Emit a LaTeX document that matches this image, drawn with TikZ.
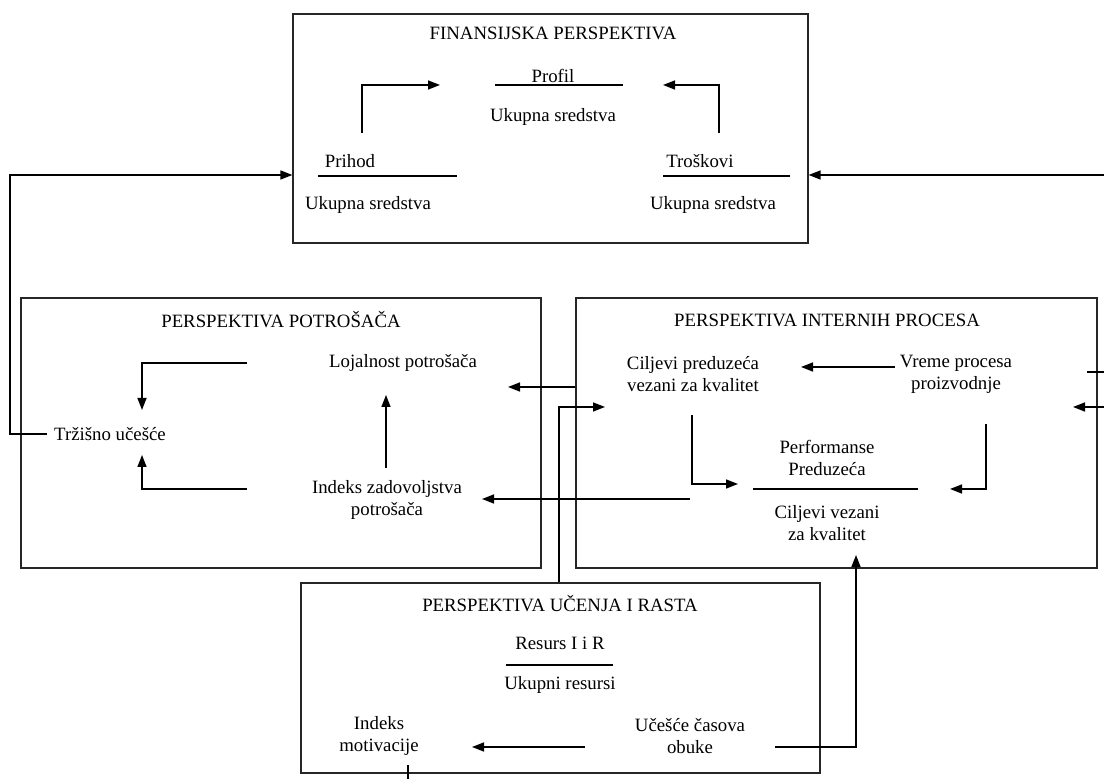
\documentclass[tikz,border=0pt]{standalone}
\usepackage{fontspec}
\setmainfont{Liberation Serif}
\usetikzlibrary{arrows.meta}
\tikzstyle{persp}=[draw=black!85, line width=0.6pt, inner sep=0pt]
\tikzstyle{flow}=[draw, line width=0.75pt, -{Triangle[length=6pt,width=4.5pt]}]
\tikzstyle{link}=[draw, line width=0.6pt]
\tikzstyle{ratio}=[draw, line width=0.6pt]
\tikzstyle{txt}=[inner sep=0pt, align=center, font=\fontsize{9.4}{11}\selectfont]

\begin{document}
\begin{tikzpicture}[x=0.5pt, y=-0.5pt]
  \useasboundingbox (0,0) rectangle (1104,779);

  % finansijska perspektiva
  \node[persp, minimum width=257.5pt, minimum height=114.5pt] (fin) at (550.5,128.5) {};
  \node[txt] (fintitle) at (553,33) {FINANSIJSKA PERSPEKTIVA};
  \node[txt] (profil) at (553,76) {Profil};
  \node[txt] (finsum) at (553,117) {Ukupna sredstva};
  \node[txt] (prihod) at (350,161) {Prihod};
  \node[txt] (prisum) at (368,205) {Ukupna sredstva};
  \node[txt] (trosak) at (700,161) {Troškovi};
  \node[txt] (trosum) at (713,205) {Ukupna sredstva};
  \draw[style=ratio] (495,85) -- (623,85);
  \draw[style=ratio] (318,176) -- (457,176);
  \draw[style=ratio] (663,176) -- (790,176);
  \coordinate (prihup) at (362,133);
  \coordinate (trosup) at (719,133);
  \coordinate (profl) at (440,85);
  \coordinate (profr) at (663,85);
  \draw[style=flow] (prihup) |- (profl);
  \draw[style=flow] (trosup) |- (profr);

  % perspektiva potrosaca
  \node[persp, minimum width=260pt, minimum height=135pt] (pot) at (281,433) {};
  \node[txt] (pottitle) at (281,320) {PERSPEKTIVA POTROŠAČA};
  \node[txt] (lojal) at (403,363) {Lojalnost potrošača};
  \node[txt] (trzis) at (110,434) {Tržišno učešće};
  \node[txt] (indzad) at (387,500) {Indeks zadovoljstva\\potrošača};
  \coordinate (lojout) at (247,363);
  \coordinate (zadout) at (247,489);
  \coordinate (trzup) at (142,410);
  \coordinate (trzdn) at (142,455);
  \draw[style=flow] (lojout) -| (trzup);
  \draw[style=flow] (zadout) -| (trzdn);
  \draw[style=flow] (386,468) -- (386,395);

  % perspektiva internih procesa
  \node[persp, minimum width=260.5pt, minimum height=135pt] (int) at (836.5,433) {};
  \node[txt] (inttitle) at (827,320) {PERSPEKTIVA INTERNIH PROCESA};
  \node[txt] (cilj) at (693,374) {Ciljevi preduzeća\\vezani za kvalitet};
  \node[txt] (vreme) at (956,374) {Vreme procesa\\proizvodnje};
  \node[txt] (perf) at (827,458) {Performanse\\Preduzeća};
  \node[txt] (cvez) at (827,523) {Ciljevi vezani\\za kvalitet};
  \draw[style=ratio] (753,489) -- (918,489);
  \draw[style=flow] (895,367) -- (801,367);
  \draw[style=flow] (692,415) |- (738,484);
  \draw[style=flow] (986,424) |- (950,489);

  % perspektiva ucenja i rasta
  \node[persp, minimum width=259.5pt, minimum height=95pt] (ucen) at (560.5,678) {};
  \node[txt] (ucentitle) at (560,604) {PERSPEKTIVA UČENJA I RASTA};
  \node[txt] (resurs) at (560,643) {Resurs I i R};
  \draw[style=ratio] (506,665) -- (613,665);
  \node[txt] (ukres) at (560,685) {Ukupni resursi};
  \node[txt] (motiv) at (379,736) {Indeks\\motivacije};
  \node[txt] (obuka) at (690,736) {Učešće časova\\obuke};
  \draw[style=flow] (585,747) -- (472,747);

  % veze izmedju perspektiva
  \coordinate (leftrail) at (10,175);
  \coordinate (rightin) at (1104,175);
  \coordinate (tick) at (1104,372);
  \coordinate (rightin2) at (1104,407);
  \coordinate (motdown) at (408,779);
  \draw[style=flow] ([xshift=-3.5pt]trzis.west) -| (leftrail) -- (fin.west |- leftrail);
  \draw[style=flow] (rightin) -- (fin.east |- rightin);
  \draw[style=link] (tick) -- (1087,372);
  \draw[style=flow] (rightin2) -- (1073,407);
  \draw[style=flow] (int.west |- 0,387) -- (508,387);
  \draw[style=flow] (690,499) -- (482,499);
  \draw[style=flow] ([xshift=-0.75pt]ucen.north) |- (605,407);
  \draw[style=flow] (775,747) -| (856,555);
  \draw[style=link] (408,765) -- (motdown);
\end{tikzpicture}
\end{document}
